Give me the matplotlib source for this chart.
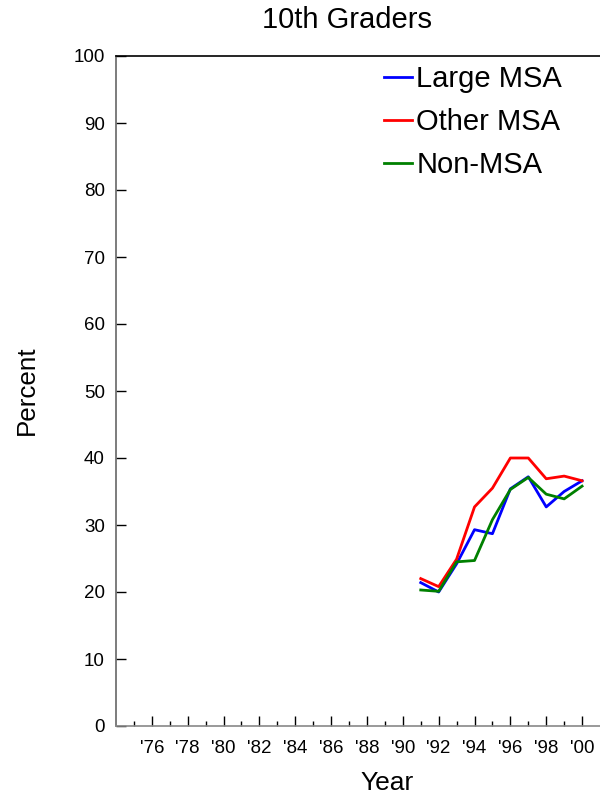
import matplotlib
matplotlib.use("Agg")
import matplotlib.pyplot as plt
from matplotlib.ticker import FixedLocator

plt.rcParams['font.family'] = ['Liberation Sans', 'DejaVu Sans']

years = [1991, 1992, 1993, 1994, 1995, 1996, 1997, 1998, 1999, 2000]
large_msa = [21.4, 20.0, 24.2, 29.3, 28.7, 35.4, 37.2, 32.7, 35.0, 36.6]
other_msa = [22.0, 20.8, 24.9, 32.7, 35.5, 40.0, 40.0, 36.9, 37.3, 36.6]
non_msa = [20.3, 20.1, 24.5, 24.7, 30.8, 35.3, 37.1, 34.6, 33.9, 35.8]

series_names = ["Large MSA", "Other MSA", "Non-MSA"]
series_colors = ["#0000ff", "#ff0000", "#008000"]

xtick_years = list(range(1976, 2001, 2))
xtick_labels = ["'" + str(y)[-2:] for y in xtick_years]
minor_years = list(range(1975, 2000, 2))
yticks = list(range(0, 101, 10))

fig = plt.figure(figsize=(6, 8), dpi=100)
ax = fig.add_axes([116/600, 74/800, 1 - 116/600, (726-56)/800])

for vals, name, col in zip([large_msa, other_msa, non_msa], series_names, series_colors):
    ax.plot(years, vals, color=col, lw=2.0, label=name)

ax.set_xlim(1974, 2001)
ax.set_ylim(0, 100)
ax.xaxis.set_major_locator(FixedLocator(xtick_years))
ax.set_xticklabels(xtick_labels)
ax.xaxis.set_minor_locator(FixedLocator(minor_years))
ax.set_yticks(yticks)

ax.tick_params(axis='both', which='major', direction='in', length=7, width=1, labelsize=13.5, color='black')
ax.tick_params(axis='x', which='minor', direction='in', length=3.5, width=1, color='black')
ax.tick_params(axis='x', which='major', pad=10)
ax.tick_params(axis='y', which='major', pad=8)

ax.spines['right'].set_visible(False)
ax.spines['left'].set_color('#666666')
ax.spines['bottom'].set_color('#888888')
ax.spines['top'].set_color('black')
for s in ax.spines.values():
    s.set_linewidth(1.2)

fig.text(347/600, 1 - 20/800, "10th Graders", ha='center', va='center', fontsize=21)
fig.text(27/600, 1 - 390/800, "Percent", ha='center', va='center', rotation=90, fontsize=18.7)
fig.text(387/600, 1 - 783/800, "Year", ha='center', va='center', fontsize=19)

leg = ax.legend(loc='upper left', bbox_to_anchor=(378/600, 1 - 59/800), bbox_transform=fig.transFigure,
                frameon=False, fontsize=21, handlelength=0.95, handletextpad=0.17,
                labelspacing=0.52, borderpad=0.2, borderaxespad=0)
for l in leg.get_lines():
    l.set_linewidth(2.0)

fig.savefig("out.png", dpi=100)
